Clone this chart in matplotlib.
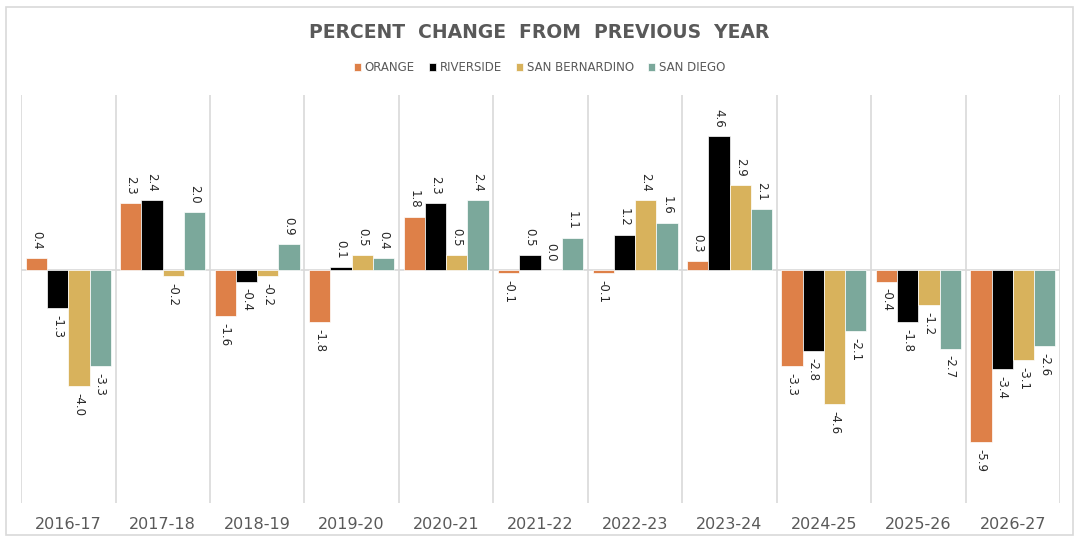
import matplotlib.pyplot as plt
import numpy as np
from matplotlib.patches import Rectangle

years = ['2016-17', '2017-18', '2018-19', '2019-20', '2020-21', '2021-22',
         '2022-23', '2023-24', '2024-25', '2025-26', '2026-27']
orange = [0.4, 2.3, -1.6, -1.8, 1.8, -0.1, -0.1, 0.3, -3.3, -0.4, -5.9]
riverside = [-1.3, 2.4, -0.4, 0.1, 2.3, 0.5, 1.2, 4.6, -2.8, -1.8, -3.4]
san_bernardino = [-4.0, -0.2, -0.2, 0.5, 0.5, 0.0, 2.4, 2.9, -4.6, -1.2, -3.1]
san_diego = [-3.3, 2.0, 0.9, 0.4, 2.4, 1.1, 1.6, 2.1, -2.1, -2.7, -2.6]

series = [('ORANGE', orange, '#DE8048'),
          ('RIVERSIDE', riverside, '#000000'),
          ('SAN BERNARDINO', san_bernardino, '#D8B25C'),
          ('SAN DIEGO', san_diego, '#7BA89B')]

fig = plt.figure(figsize=(10.79, 5.42), dpi=100)
ax = fig.add_axes([0.0195, 0.072, 0.963, 0.7527])

# outer frame
fig.patches.append(Rectangle((0.0056, 0.013), 0.989, 0.974, transform=fig.transFigure,
                             fill=False, edgecolor='#D9D9D9', linewidth=1.2))

x = np.arange(len(years))
w = 0.225
for i, (name, vals, col) in enumerate(series):
    pos = x + (i - 1.5) * w
    ax.bar(pos, vals, w, color=col, edgecolor='white', linewidth=0.5, label=name)
    for px, v in zip(pos, vals):
        if v >= 0:
            ax.annotate('{:.1f}'.format(v), (px, v), xytext=(0, 6), textcoords='offset points',
                        rotation=270, ha='center', va='bottom', fontsize=8.5, color='#262626')
        else:
            ax.annotate('{:.1f}'.format(v), (px, v), xytext=(0, -5), textcoords='offset points',
                        rotation=270, ha='center', va='top', fontsize=8.5, color='#262626')

ax.set_xlim(-0.5, len(years) - 0.5)
ax.set_ylim(-8, 6)
ax.axhline(0, color='#D9D9D9', linewidth=1.2, zorder=0)
for b in np.arange(len(years) + 1) - 0.5:
    ax.axvline(b, color='#D9D9D9', linewidth=1.2, zorder=0)

for s in ax.spines.values():
    s.set_visible(False)
ax.set_yticks([])
ax.set_xticks(x)
ax.set_xticklabels(years, fontsize=11.5, color='#595959')
ax.tick_params(axis='x', length=0, pad=10)

fig.text(0.5, 0.94, 'PERCENT  CHANGE  FROM  PREVIOUS  YEAR',
         ha='center', va='center', fontsize=13.5, fontweight='bold', color='#595959')

leg = fig.legend(loc='center', bbox_to_anchor=(0.5, 0.875), ncol=4, frameon=False,
                 fontsize=8.5, handlelength=0.6, handleheight=0.6, handletextpad=0.3,
                 columnspacing=1.2)
for t in leg.get_texts():
    t.set_color('#595959')

fig.savefig('out.png', dpi=100)
